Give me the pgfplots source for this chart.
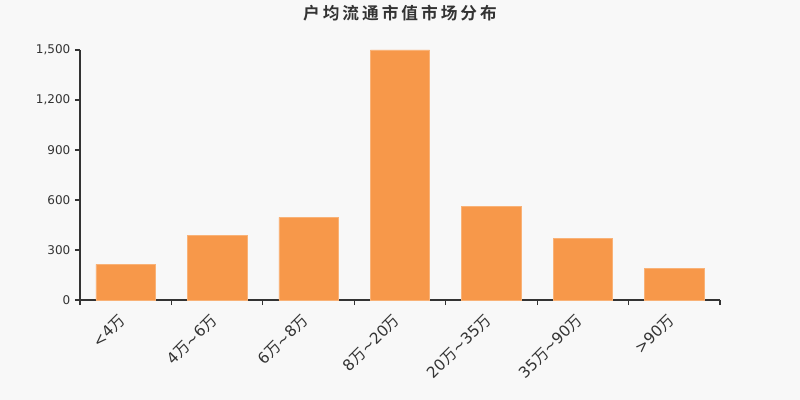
\documentclass[border=0pt]{standalone}
\usepackage{pgfplots}
\pgfplotsset{compat=1.18}
\usepackage{fontspec}
\setmainfont{DejaVu Sans}
\newfontfamily\cjk{Noto Sans CJK SC}
\newfontfamily\cjkb[LetterSpace=18]{Noto Sans CJK SC Bold}
\definecolor{bg}{HTML}{F8F8F8}
\definecolor{bar}{HTML}{F7984A}
\definecolor{txt}{HTML}{333333}
\newcommand{\w}{{\cjk 万}}
\begin{document}
\begin{tikzpicture}
\fill[bg] (-60pt,-75pt) rectangle (540pt,225pt);
\node[text=txt, font=\cjkb\fontsize{12.5}{14}\selectfont] at (240pt,215pt) {户均流通市值市场分布};
\begin{axis}[
  at={(0pt,0pt)}, anchor=south west,
  scale only axis,
  width=480pt, height=187.5pt,
  xmin=-0.5, xmax=6.5,
  ymin=0, ymax=1500,
  axis x line*=bottom, axis y line*=left,
  axis line style={-, txt, line width=0.8pt},
  ytick={0,300,...,1500},
  xtick={0,...,6},
  minor xtick={-0.5,0.5,...,6.5},
  major x tick style={draw=none},
  minor x tick style={txt, line width=0.8pt},
  y tick style={txt, line width=0.8pt},
  tick align=outside,
  major tick length=3.75pt,
  minor tick length=3.75pt,
  xticklabels={<4\w, 4\w\textasciitilde6\w, 6\w\textasciitilde8\w, 8\w\textasciitilde20\w, 20\w\textasciitilde35\w, 35\w\textasciitilde90\w, >90\w},
  x tick label style={rotate=45, anchor=north east, font=\fontsize{11.5}{13}\selectfont, text=txt, inner sep=1pt, xshift=-7pt, yshift=1pt},
  y tick label style={font=\fontsize{9}{11}\selectfont, text=txt},
  /pgf/number format/assume math mode=true,
  /pgf/number format/1000 sep={,},
  scaled y ticks=false,
]
\addplot[ybar, bar width=0.65, fill=bar, draw=bar!75!white, line width=0.4pt] coordinates {
  (0,214) (1,390) (2,496) (3,1500) (4,562) (5,370) (6,190)
};
\end{axis}
\end{tikzpicture}
\end{document}
